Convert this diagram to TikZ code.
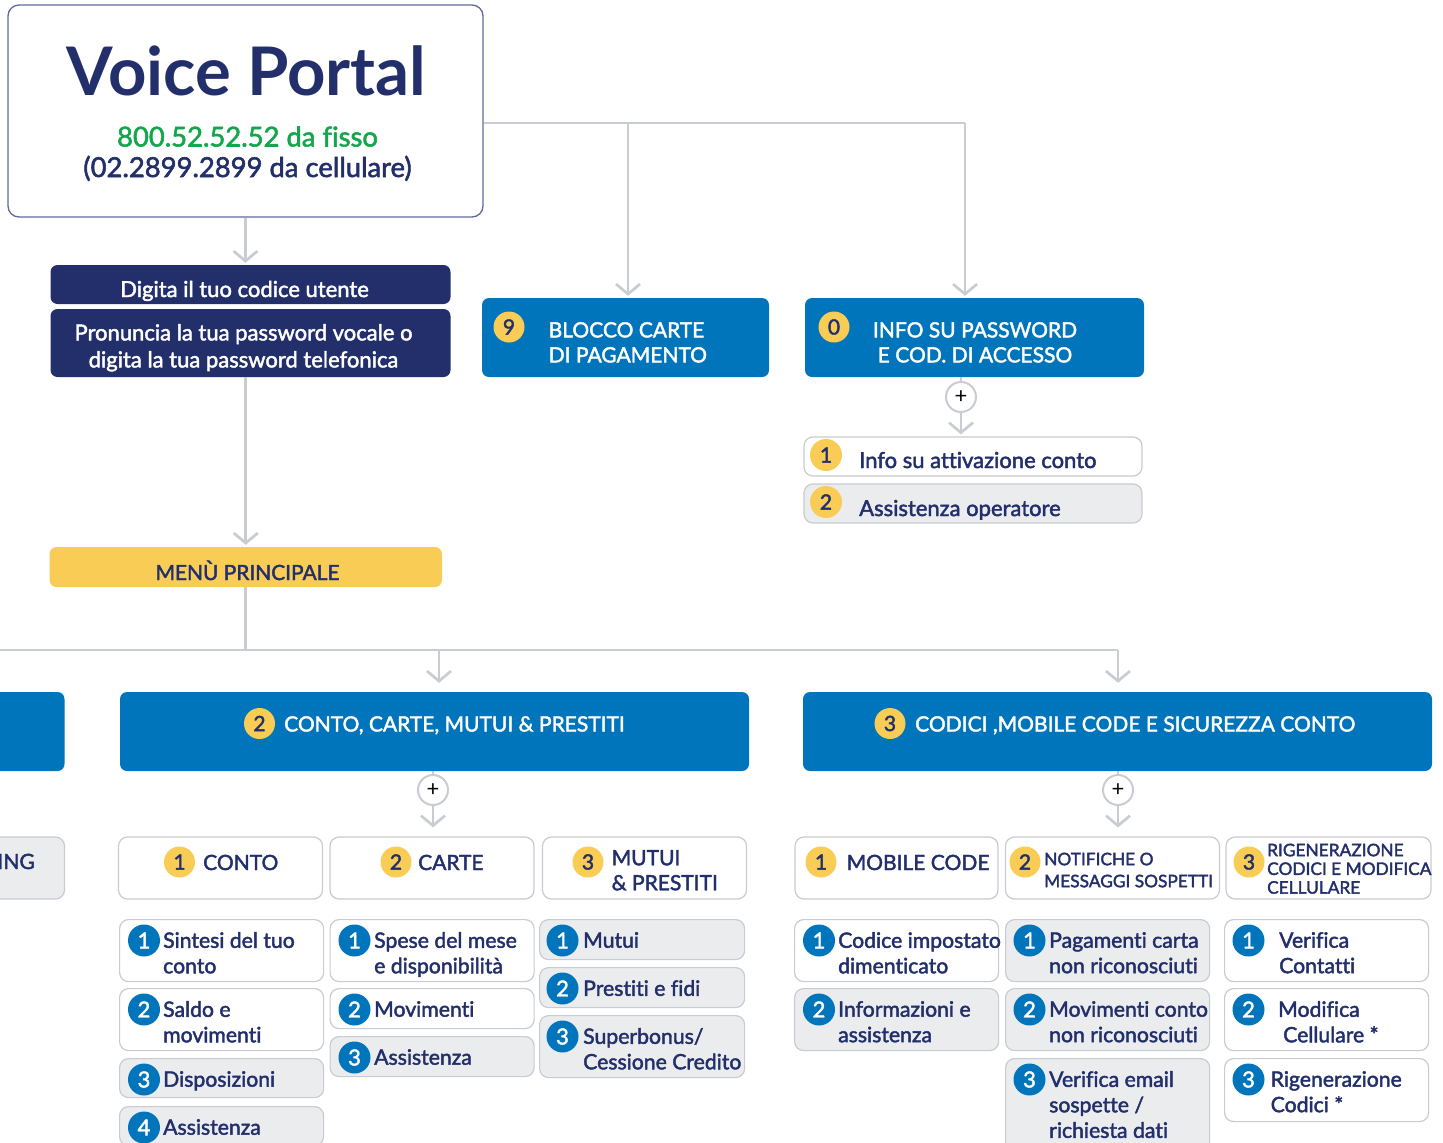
\documentclass[tikz,border=0pt]{standalone}
\usepackage{fontspec}
\setmainfont{Lato}
\newfontfamily\vpmed{Lato}[FakeBold=2, Ligatures=NoCommon]
\usetikzlibrary{positioning,arrows.meta}
\definecolor{vpnavy}{HTML}{222F6B}
\definecolor{vpblue}{HTML}{0075BC}
\definecolor{vpyellow}{HTML}{F9CC55}
\definecolor{vpgreen}{HTML}{14A64C}
\definecolor{vpline}{HTML}{C9CCD3}
\definecolor{vpgrey}{HTML}{EBECEE}
\definecolor{vpborder}{HTML}{C8CBD1}
\definecolor{vpframe}{HTML}{5D6B9B}

\begin{document}
\begin{tikzpicture}[x=1pt, y=-1pt, node distance=9pt,
    conn/.style={draw=vpline, line width=2.7pt},
    connarr/.style={conn, -{Straight Barb[length=10pt,width=24pt]}, shorten >=2pt},
    gaparr/.style={connarr, shorten >=9pt},
    portal/.style={draw=vpframe, line width=1.3pt, rounded corners=11pt, fill=white},
    navybox/.style={fill=vpnavy, rounded corners=7pt},
    navytext/.style={text=white, align=center, inner sep=0pt, font=\vpmed\fontsize{22}{27}\selectfont},
    bluebox/.style={fill=vpblue, rounded corners=7pt},
    headtext/.style={text=white, align=left, inner sep=0pt, font=\vpmed\fontsize{21}{25}\selectfont},
    ybadge/.style={circle, fill=vpyellow, text=vpnavy, minimum size=31pt, inner sep=0pt, font=\vpmed\fontsize{21}{21}\selectfont},
    bbadge/.style={circle, fill=vpblue, text=white, minimum size=32pt, inner sep=0pt, font=\vpmed\fontsize{22}{22}\selectfont},
    optbox/.style={draw=vpborder, line width=1.2pt, rounded corners=9pt, fill=white, inner sep=0pt},
    opttext/.style={text=vpnavy, align=left, inner sep=0pt, anchor=base west, font=\vpmed\fontsize{21}{25}\selectfont},
    smalltext/.style={opttext, anchor=north west, font=\vpmed\fontsize{17.3}{20}\selectfont},
    itemtext/.style={text=vpnavy, align=left, inner sep=0pt, anchor=north west, font=\vpmed\fontsize{21.2}{25.5}\selectfont},
    plus/.style={circle, draw=vpline, line width=2pt, fill=white, minimum size=30pt, inner sep=0pt, font=\fontsize{22}{22}\selectfont}]
  \useasboundingbox (0,0) rectangle (1443,1143);
  \clip (0,0) rectangle (1443,1143);

  % voice portal
  \node[portal, minimum width=475pt, minimum height=212pt] (vp) at (245.5,111) {};
  \node[text=vpnavy, inner sep=0pt, anchor=base, font=\bfseries\fontsize{67}{67}\selectfont] (vp title) at (246.5,95) {Voice Portal};
  \node[text=vpgreen, inner sep=0pt, anchor=base, font=\vpmed\fontsize{27.4}{27}\selectfont] (vp fix) at (247.5,146.5) {800.52.52.52 da fisso};
  \node[text=vpnavy, inner sep=0pt, anchor=base, font=\vpmed\fontsize{27.4}{27}\selectfont] (vp mob) at (247.5,177) {(02.2899.2899 da cellulare)};

  % login
  \node[navybox, minimum width=400pt, minimum height=39pt] (code) at (250.5,284.5) {};
  \node[navytext, anchor=base] (code t) at (244.5,297) {Digita il tuo codice utente};
  \node[navybox, minimum width=400pt, minimum height=68pt] (pwd) at (250.5,343) {};
  \node[navytext, anchor=north] (pwd t) at (243.5,324) {Pronuncia la tua password vocale o\\digita la tua password telefonica};

  % blocco carte, info password
  \node[bluebox, minimum width=287pt, minimum height=79pt] (blocco) at (625.5,337.5) {};
  \node[ybadge] (blocco b) at (509,327) {9};
  \node[headtext, anchor=north west] (blocco t) at (548.5,322) {BLOCCO CARTE\\DI PAGAMENTO};
  \node[bluebox, minimum width=339pt, minimum height=79pt] (info) at (974.5,337.5) {};
  \node[ybadge] (info b) at (834,327) {0};
  \node[headtext, align=center, anchor=north] (info t) at (975,322) {INFO SU PASSWORD\\E COD. DI ACCESSO};

  \node[plus] (info p) at (961,397) {+};
  \node[optbox, minimum width=338pt, minimum height=39pt] (info1) at (973,456.5) {};
  \node[ybadge, minimum size=32pt] (info1 b) at (826,455) {1};
  \node[opttext, font=\vpmed\fontsize{22}{22}\selectfont] (info1 t) at (859,468) {Info su attivazione conto};
  \node[optbox, fill=vpgrey, minimum width=338pt, minimum height=39pt] (info2) at (973,503.5) {};
  \node[ybadge, minimum size=32pt] (info2 b) at (826,502) {2};
  \node[opttext, font=\vpmed\fontsize{22}{22}\selectfont] (info2 t) at (859,516) {Assistenza operatore};

  % menu principale
  \node[fill=vpyellow, rounded corners=7pt, minimum width=392.5pt, minimum height=40pt] (menu) at (245.75,567) {};
  \node[text=vpnavy, inner sep=0pt, anchor=base, font=\vpmed\fontsize{20.9}{20}\selectfont] (menu t) at (247.5,580) {MENÙ PRINCIPALE};

  \node[bluebox, minimum width=329pt, minimum height=79pt] (main1) at (-100,731.5) {};
  \node[bluebox, minimum width=629pt, minimum height=79pt] (main2) at (434.5,731.5) {};
  \node[ybadge] (main2 b) at (259.5,723.5) {2};
  \node[headtext, anchor=base west] (main2 t) at (284,731.5) {CONTO, CARTE, MUTUI \& PRESTITI};
  \node[bluebox, minimum width=629pt, minimum height=79pt] (main3) at (1117.5,731.5) {};
  \node[ybadge] (main3 b) at (890,723.5) {3};
  \node[headtext, anchor=base west] (main3 t) at (915,731.5) {CODICI ,MOBILE CODE E SICUREZZA CONTO};

  \node[plus] (main2 p) at (433,790) {+};
  \node[plus] (main3 p) at (1118,790) {+};

  % second level
  \node[optbox, fill=vpgrey, minimum width=164pt, minimum height=62pt] (sub0) at (-17.5,868) {};
  \node[opttext, anchor=base east] (sub0 t) at (35,869) {ING};
  \node[optbox, minimum width=204pt, minimum height=62pt] (conto) at (220.5,868) {};
  \node[ybadge] (conto b) at (179.5,862) {1};
  \node[opttext] (conto t) at (203,870) {CONTO};
  \node[optbox, minimum width=204pt, minimum height=62pt] (carte) at (432,868) {};
  \node[ybadge] (carte b) at (396,862) {2};
  \node[opttext] (carte t) at (418,870) {CARTE};
  \node[optbox, minimum width=204pt, minimum height=62pt] (mutui) at (644.5,868) {};
  \node[ybadge] (mutui b) at (588,862) {3};
  \node[opttext, anchor=north west] (mutui t) at (611.5,850) {MUTUI\\\& PRESTITI};
  \node[optbox, minimum width=203pt, minimum height=62pt] (mobile) at (896.5,868) {};
  \node[ybadge] (mobile b) at (821,862) {1};
  \node[opttext] (mobile t) at (846.5,870) {MOBILE CODE};
  \node[optbox, minimum width=214pt, minimum height=62pt] (notif) at (1112.5,868) {};
  \node[ybadge] (notif b) at (1025,862) {2};
  \node[smalltext, font=\vpmed\fontsize{17.3}{22}\selectfont] (notif t) at (1044,852.5) {NOTIFICHE O\\MESSAGGI SOSPETTI};
  \node[optbox, minimum width=205pt, minimum height=62pt] (rigen) at (1328.5,868) {};
  \node[ybadge] (rigen b) at (1249,862) {3};
  \node[smalltext, font=\vpmed\fontsize{17.3}{18.7}\selectfont] (rigen t) at (1267,843.5) {RIGENERAZIONE\\CODICI E MODIFICA\\CELLULARE};

  % third level
  \foreach \n/\yt/\h/\f/\t in {1/919/62/white/{Sintesi del tuo\\conto},
      2/988/62/white/{Saldo e\\movimenti},
      3/1058/39/vpgrey/Disposizioni,
      4/1106/39/vpgrey/Assistenza}{
    \node[optbox, fill=\f, minimum width=204pt, minimum height=\h*1pt, anchor=north west] (conto\n) at (119,\yt) {};
    \node[bbadge] (conto\n b) at ([shift={(25,21.5)}]conto\n.north west) {\n};
    \node[itemtext] (conto\n t) at ([shift={(44,13)}]conto\n.north west) {\t};
  }
  \foreach \n/\yt/\h/\f/\t in {1/919/62/white/{Spese del mese\\e disponibilità},
      2/988/40/white/Movimenti,
      3/1036/40/vpgrey/Assistenza}{
    \node[optbox, fill=\f, minimum width=204pt, minimum height=\h*1pt, anchor=north west] (carte\n) at (329.5,\yt) {};
    \node[bbadge] (carte\n b) at ([shift={(25,21.5)}]carte\n.north west) {\n};
    \node[itemtext] (carte\n t) at ([shift={(44.5,13)}]carte\n.north west) {\t};
  }
  \foreach \n/\yt/\h/\f/\t in {1/919/40/vpgrey/Mutui,
      2/967/40/vpgrey/{Prestiti e fidi},
      3/1015/62/vpgrey/{Superbonus/\\Cessione Credito}}{
    \node[optbox, fill=\f, minimum width=205pt, minimum height=\h*1pt, anchor=north west] (mutui\n) at (539,\yt) {};
    \node[bbadge] (mutui\n b) at ([shift={(23.5,21.5)}]mutui\n.north west) {\n};
    \node[itemtext] (mutui\n t) at ([shift={(44,13)}]mutui\n.north west) {\t};
  }
  \foreach \n/\yt/\h/\f/\t in {1/919/62/white/{Codice impostato\\dimenticato},
      2/988/62/vpgrey/{Informazioni e\\assistenza}}{
    \node[optbox, fill=\f, minimum width=204pt, minimum height=\h*1pt, anchor=north west] (mobile\n) at (794,\yt) {};
    \node[bbadge] (mobile\n b) at ([shift={(25,21.5)}]mobile\n.north west) {\n};
    \node[itemtext] (mobile\n t) at ([shift={(44,13)}]mobile\n.north west) {\t};
  }
  \foreach \n/\yt/\h/\f/\t in {1/919/62/vpgrey/{Pagamenti carta\\non riconosciuti},
      2/988/62/vpgrey/{Movimenti conto\\non riconosciuti},
      3/1058/95/vpgrey/{Verifica email\\sospette /\\richiesta dati}}{
    \node[optbox, fill=\f, minimum width=204pt, minimum height=\h*1pt, anchor=north west] (notif\n) at (1005,\yt) {};
    \node[bbadge] (notif\n b) at ([shift={(24.5,21.5)}]notif\n.north west) {\n};
    \node[itemtext] (notif\n t) at ([shift={(44,13)}]notif\n.north west) {\t};
  }
  \foreach \n/\yt/\h/\dx/\t in {1/919/62/55/{Verifica\\Contatti},
      2/988/62/54/{Modifica\\\hspace{5pt}Cellulare *},
      3/1058/63/46.5/{Rigenerazione\\Codici *}}{
    \node[optbox, minimum width=204pt, minimum height=\h*1pt, anchor=north west] (rigen\n) at (1224,\yt) {};
    \node[bbadge] (rigen\n b) at ([shift={(24.5,21.5)}]rigen\n.north west) {\n};
    \node[itemtext] (rigen\n t) at ([shift={(\dx,13)}]rigen\n.north west) {\t};
  }

  % connectors
  \coordinate (top j) at (965,123);
  \coordinate (blocco j) at (628,123);
  \coordinate (main j) at (-10,650);
  \coordinate (main2 j) at (439,650);
  \coordinate (main3 j) at (1118,650);
  \draw[conn] (vp.east |- top j) -- (top j);
  \draw[connarr] (top j) -- (top j |- info.north);
  \draw[connarr] (blocco j) -- (blocco j |- blocco.north);
  \draw[connarr] (vp.south) -- (vp.south |- code.north);
  \draw[connarr] (pwd.south -| menu.north) -- (menu.north);
  \draw[conn] (menu.south) -- (menu.south |- main j);
  \draw[conn] (main j) -- (main3 j);
  \draw[gaparr] (main2 j) -- (main2 j |- main2.north);
  \draw[gaparr] (main3 j) -- (main3 j |- main3.north);
  \draw[conn] (info p |- info.south) -- (info p.north);
  \draw[connarr] (info p.south) -- (info p |- info1.north);
  \draw[conn] (main2 p |- main2.south) -- (main2 p.north);
  \draw[gaparr] (main2 p.south) -- (main2 p |- conto.north);
  \draw[conn] (main3 p |- main3.south) -- (main3 p.north);
  \draw[gaparr] (main3 p.south) -- (main3 p |- mobile.north);
\end{tikzpicture}
\end{document}
